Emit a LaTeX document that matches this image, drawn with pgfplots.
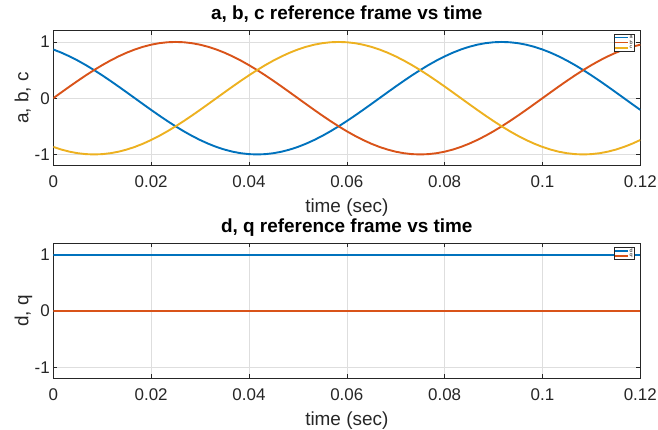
\documentclass[border=0pt]{standalone}
\usepackage{fontspec}
\setmainfont{Liberation Sans}
\usepackage{pgfplots}
\pgfplotsset{compat=1.18}
\usepackage{pgfplotstable}
\definecolor{mA}{rgb}{0,0.447,0.741}
\definecolor{mB}{rgb}{0.85,0.325,0.098}
\definecolor{mC}{rgb}{0.929,0.694,0.125}
\definecolor{axc}{rgb}{0.15,0.15,0.15}

\pgfplotstableread{
t a b c
0 0.8660 0 -0.8660
0.001667 0.8090 0.1045 -0.9135
0.003333 0.7431 0.2079 -0.9511
0.005 0.6691 0.3090 -0.9781
0.006667 0.5878 0.4067 -0.9945
0.008333 0.5 0.5 -1
0.01 0.4067 0.5878 -0.9945
0.011667 0.3090 0.6691 -0.9781
0.013333 0.2079 0.7431 -0.9511
0.015 0.1045 0.8090 -0.9135
0.016667 0 0.8660 -0.8660
0.018333 -0.1045 0.9135 -0.8090
0.02 -0.2079 0.9511 -0.7431
0.021667 -0.3090 0.9781 -0.6691
0.023333 -0.4067 0.9945 -0.5878
0.025 -0.5 1 -0.5
0.026667 -0.5878 0.9945 -0.4067
0.028333 -0.6691 0.9781 -0.3090
0.03 -0.7431 0.9511 -0.2079
0.031667 -0.8090 0.9135 -0.1045
0.033333 -0.8660 0.8660 0
0.035 -0.9135 0.8090 0.1045
0.036667 -0.9511 0.7431 0.2079
0.038333 -0.9781 0.6691 0.3090
0.04 -0.9945 0.5878 0.4067
0.041667 -1 0.5 0.5
0.043333 -0.9945 0.4067 0.5878
0.045 -0.9781 0.3090 0.6691
0.046667 -0.9511 0.2079 0.7431
0.048333 -0.9135 0.1045 0.8090
0.05 -0.8660 0 0.8660
0.051667 -0.8090 -0.1045 0.9135
0.053333 -0.7431 -0.2079 0.9511
0.055 -0.6691 -0.3090 0.9781
0.056667 -0.5878 -0.4067 0.9945
0.058333 -0.5 -0.5 1
0.06 -0.4067 -0.5878 0.9945
0.061667 -0.3090 -0.6691 0.9781
0.063333 -0.2079 -0.7431 0.9511
0.065 -0.1045 -0.8090 0.9135
0.066667 0 -0.8660 0.8660
0.068333 0.1045 -0.9135 0.8090
0.07 0.2079 -0.9511 0.7431
0.071667 0.3090 -0.9781 0.6691
0.073333 0.4067 -0.9945 0.5878
0.075 0.5 -1 0.5
0.076667 0.5878 -0.9945 0.4067
0.078333 0.6691 -0.9781 0.3090
0.08 0.7431 -0.9511 0.2079
0.081667 0.8090 -0.9135 0.1045
0.083333 0.8660 -0.8660 0
0.085 0.9135 -0.8090 -0.1045
0.086667 0.9511 -0.7431 -0.2079
0.088333 0.9781 -0.6691 -0.3090
0.09 0.9945 -0.5878 -0.4067
0.091667 1 -0.5 -0.5
0.093333 0.9945 -0.4067 -0.5878
0.095 0.9781 -0.3090 -0.6691
0.096667 0.9511 -0.2079 -0.7431
0.098333 0.9135 -0.1045 -0.8090
0.1 0.8660 0 -0.8660
0.101667 0.8090 0.1045 -0.9135
0.103333 0.7431 0.2079 -0.9511
0.105 0.6691 0.3090 -0.9781
0.106667 0.5878 0.4067 -0.9945
0.108333 0.5 0.5 -1
0.11 0.4067 0.5878 -0.9945
0.111667 0.3090 0.6691 -0.9781
0.113333 0.2079 0.7431 -0.9511
0.115 0.1045 0.8090 -0.9135
0.116667 0 0.8660 -0.8660
0.118333 -0.1045 0.9135 -0.8090
0.12 -0.2079 0.9511 -0.7431
}\abc

\pgfplotstableread{
t d q
0 1 0
0.06 1 0
0.12 1 0
}\dq

\pgfplotsset{mstyle/.style={
  scale only axis, width=587bp, height=135bp,
  xmin=0, xmax=0.12, ymin=-1.2, ymax=1.2,
  xtick={0,0.02,0.04,0.06,0.08,0.1,0.12},
  xticklabels={0,0.02,0.04,0.06,0.08,0.1,0.12},
  ytick={-1,0,1}, yticklabels={-1,0,1},
  tick align=inside, major tick length=4bp,
  grid=major, grid style={color=black!13, line width=0.5bp},
  axis line style={axc, line width=0.6bp},
  tick style={axc, line width=0.6bp},
  tick label style={font=\fontsize{17}{20}\selectfont, text=axc},
  xticklabel style={anchor=base, yshift=-22bp},
  label style={font=\fontsize{19}{22}\selectfont, text=axc},
  xlabel style={at={(axis description cs:0.5,-0.348)}, anchor=base},
  ylabel style={at={(axis description cs:-0.0426,0.5)}, anchor=base},
  title style={font=\fontsize{19}{22}\selectfont\bfseries, text=black,
    at={(axis description cs:0.5,1.035)}, anchor=base},
  legend style={at={(axis description cs:0.9898,0.9756)}, anchor=north east,
    font=\fontsize{5.5}{6}\selectfont, text=axc, draw=axc, line width=0.4bp,
    inner xsep=0.8bp, inner ysep=0.6bp, row sep=-1bp,
    nodes={inner sep=0.6bp}},
  legend cell align=left,
  legend image code/.code={\draw[#1, line width=1.4bp] (0bp,0bp) -- (13bp,0bp);},
}}

\begin{document}
\begin{tikzpicture}
\path[use as bounding box] (0,0) rectangle (658bp,430bp);
\begin{axis}[mstyle, at={(53.3bp,264.3bp)}, anchor=south west,
  title={a, b, c reference frame vs time}, xlabel={time (sec)}, ylabel={a, b, c}]
\addplot[color=mA, line width=1.9bp] table[x=t,y=a]{\abc};
\addplot[color=mB, line width=1.9bp] table[x=t,y=b]{\abc};
\addplot[color=mC, line width=1.9bp] table[x=t,y=c]{\abc};
\legend{a,b,c}
\end{axis}
\begin{axis}[mstyle, at={(53.3bp,51.5bp)}, anchor=south west,
  title={d, q reference frame vs time}, xlabel={time (sec)}, ylabel={d, q}]
\addplot[color=mA, line width=1.9bp] table[x=t,y=d]{\dq};
\addplot[color=mB, line width=1.9bp] table[x=t,y=q]{\dq};
\legend{d,q}
\end{axis}
\end{tikzpicture}
\end{document}
